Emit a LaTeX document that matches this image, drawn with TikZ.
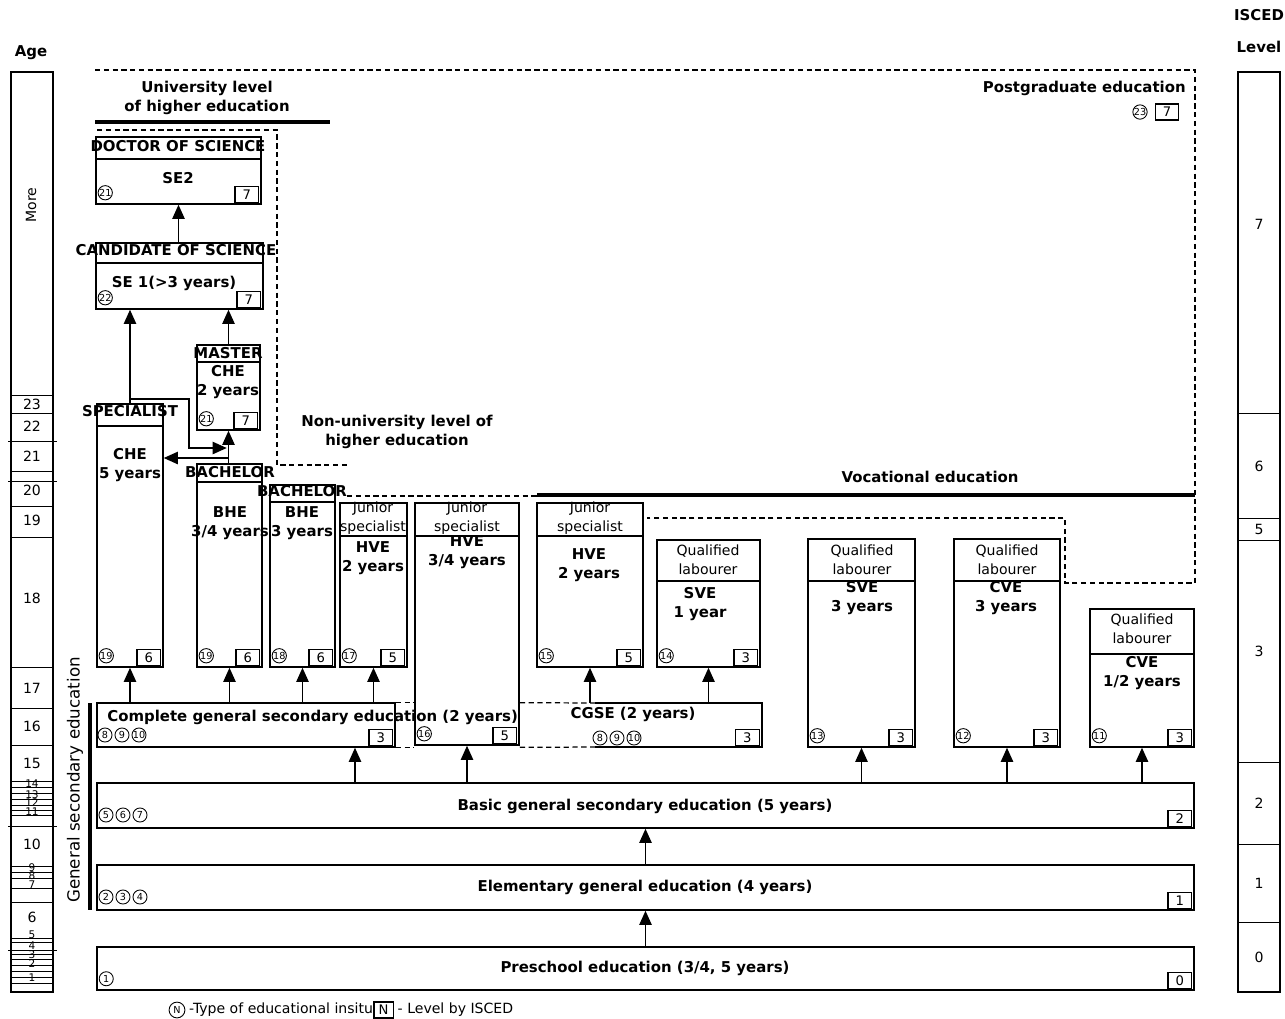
\documentclass[tikz,border=0pt]{standalone}
\usepackage{fontspec}
\setmainfont{DejaVu Sans}
\usetikzlibrary{arrows.meta,fit,positioning}

\begin{document}
\begin{tikzpicture}[x=0.02cm, y=-0.02cm, >={Triangle[width=7pt,length=8pt]},
  box/.style={draw, line width=0.85pt, inner sep=0pt},
  lbl/.style={font=\fontsize{8.5}{11}\selectfont\bfseries, align=center, inner sep=0pt},
  txt/.style={font=\fontsize{8}{11}\selectfont, align=center, inner sep=0pt},
  small/.style={font=\fontsize{6}{6}\selectfont, inner sep=0pt},
  inst/.style={circle, draw, line width=0.5pt, inner sep=0pt, minimum size=8pt, font=\fontsize{5.5}{5.5}\selectfont},
  lev/.style={draw, line width=0.7pt, inner sep=0pt, minimum width=13.5pt, minimum height=9pt, font=\fontsize{7.5}{8}\selectfont},
  link/.style={->, line width=0.8pt},
  bound/.style={line width=0.7pt, dash pattern=on 3pt off 2pt},
  rule/.style={line width=2.2pt}]

\useasboundingbox (0,0) rectangle (1285,1018);

\node[lbl] (age) at (31,53) {Age};
\node[box, fit={(11,72) (53,992)}] (agecol) {};
\node[txt, rotate=90] (more) at (31,205) {More};
\foreach \y in {395,413,471,506,537,667,708,745,781,787,793,799,805,810,815,866,872,878,888,902,938,942,954,959,965,971,977,983}
  \draw[line width=0.5pt] (11,\y) -- (53,\y);
\foreach \y in {441,481,826,950}
  \draw[line width=0.5pt] (8,\y) -- (57,\y);
\foreach \a/\y in {23/404,22/426,21/456,20/490,19/520,18/598,17/688,16/726,15/763,10/844,6/917}
  \node[txt] (age-\a) at (32,\y) {\a};
\foreach \a/\y in {14/784,13/795,12/803,11/812,9/868,8/876,7/885,5/935,4/946,3/955,2/964,1/978}
  \node[small] (age-\a) at (32,\y) {\a};

\node[lbl] (isced) at (1259,15) {ISCED};
\node[lbl] (level) at (1259,47) {Level};
\node[box, fit={(1238,72) (1280,992)}] (isccol) {};
\foreach \y in {413,518,540,762,844,922}
  \draw[line width=0.5pt] (1238,\y) -- (1280,\y);
\foreach \l/\y in {7/224,6/466,5/529,3/651,2/803,1/883,0/957}
  \node[txt] (isc-\l) at (1259,\y) {\l};

\draw[bound] (95,70) -- (1195,70) -- (1195,583) -- (1065,583) -- (1065,518) -- (647,518);
\draw[bound] (97,130) -- (277,130) -- (277,465) -- (348,465);
\draw[bound] (347,496) -- (537,496);
\draw[rule] (95,122) -- (330,122);
\draw[rule] (537,495) -- (1195,495);
\draw[rule] (90,703) -- (90,910);

\node[lbl] (univ) at (207,98) {University level\\of higher education};
\node[lbl] (nonuniv) at (397,432) {Non-university level of\\higher education};
\node[lbl] (voc) at (930,477) {Vocational education};
\node[lbl, anchor=east] (postgrad) at (1186,88) {Postgraduate education};
\node[inst] (pg-i) at (1140,112) {23};
\node[lev] (pg-l) at (1167,112) {7};
\node[txt, rotate=90, font=\fontsize{9.5}{11}\selectfont] (gse) at (75,780) {General secondary education};

\foreach \n/\xa/\ya/\xb/\yb/\yd in {doc/96/137/261/204/159, cand/96/243/263/309/263,
    mast/197/345/260/430/362, spec/97/404/163/667/426, bacha/197/464/262/667/482,
    bachb/270/485/335/667/502, jsa/340/503/407/667/536, jsb/415/503/519/745/536,
    jsc/537/503/643/667/536, qla/657/540/760/667/581, qlb/808/539/915/747/581,
    qlc/954/539/1060/747/581, qld/1090/609/1194/747/654}
{
  \node[box, fill=white, fit={(\xa,\ya) (\xb,\yb)}] (\n) {};
  \draw[box] (\xa,\yd) -- (\xb,\yd);
}

\foreach \n/\x/\y/\t in {doc-t/178/146/DOCTOR OF SCIENCE, doc-b/178/178/SE2,
    cand-t/176/250/CANDIDATE OF SCIENCE, cand-b/174/283/SE 1(>3 years),
    mast-t/228/353/MASTER, mast-b/228/382/CHE\\2 years,
    spec-t/130/411/SPECIALIST, spec-b/130/465/CHE\\5 years,
    bacha-t/230/472/BACHELOR, bacha-b/230/523/{BHE\\3/4 years},
    bachb-t/302/491/BACHELOR, bachb-b/302/523/BHE\\3 years,
    jsa-b/373/558/HVE\\2 years, jsb-b/467/552/{HVE\\3/4 years}, jsc-b/589/565/HVE\\2 years,
    qla-b/700/604/SVE\\1 year, qlb-b/862/598/SVE\\3 years,
    qlc-b/1006/598/CVE\\3 years, qld-b/1142/673/{CVE\\1/2 years}}
  \node[lbl] (\n) at (\x,\y) {\t};

\foreach \n/\x/\y/\t in {jsa-t/373/518/Junior\\specialist, jsb-t/467/518/Junior\\specialist,
    jsc-t/590/518/Junior\\specialist, qla-t/708/560/Qualified\\labourer,
    qlb-t/862/560/Qualified\\labourer, qlc-t/1007/560/Qualified\\labourer,
    qld-t/1142/629/Qualified\\labourer}
  \node[txt] (\n) at (\x,\y) {\t};

\node[box, fit={(97,703) (395,747)}] (cgs) {};
\node[inner sep=0pt, fit={(519,703) (762,747)}] (cgse) {};
\draw[box] (595,703) -- (762,703) -- (762,747) -- (595,747);
\draw[bound] (cgs.north east) -- (jsb.west |- cgs.north);
\draw[bound] (cgs.south east) -- (jsb.west |- cgs.south);
\draw[bound] (jsb.east |- cgse.north) -- (595,703);
\draw[bound] (jsb.east |- cgse.south) -- (595,747);
\node[box, fit={(97,783) (1194,828)}] (basic) {};
\node[box, fit={(97,865) (1194,910)}] (elem) {};
\node[box, fit={(97,947) (1194,990)}] (pre) {};

\node[lbl, anchor=west] (cgs-t) at (107,717) {Complete general secondary education (2 years)};
\node[lbl] (cgse-t) at (633,714) {CGSE (2 years)};
\node[lbl] (basic-t) at (645,806) {Basic general secondary education (5 years)};
\node[lbl] (elem-t) at (645,887) {Elementary general education (4 years)};
\node[lbl] (pre-t) at (645,968) {Preschool education (3/4, 5 years)};

\foreach \n/\i/\l in {doc/21/7, cand/22/7, mast/21/7, spec/19/6, bacha/19/6, bachb/18/6,
    jsa/17/5, jsb/16/5, jsc/15/5, qla/14/3, qlb/13/3, qlc/12/3, qld/11/3, cgs/8/3,
    cgse/8/3, basic/5/2, elem/2/1, pre/1/0}
{
  \node[lev] (\n-l) at ([shift={(-15,-10)}]\n.south east) {\l};
}
\foreach \n/\i in {doc/21, cand/22, mast/21, spec/19, bacha/19, bachb/18, jsa/17, jsb/16,
    jsc/15, qla/14, qlb/13, qlc/12, qld/11, pre/1}
  \node[inst] (\n-i) at ([shift={(10,-12)}]\n.south west) {\i};
\foreach \n/\x/\y in {cgs/105/735, cgse/600/738, basic/106/815, elem/106/897}
  \foreach \i [count=\k from 0] in {a,b,c}
    \node[inst] (\n-i\i) at (\x+\k*17,\y) {};
\foreach \n/\a/\b/\c in {cgs/8/9/10, cgse/8/9/10, basic/5/6/7, elem/2/3/4}
{
  \node[font=\fontsize{5.5}{5.5}\selectfont] at (\n-ia) {\a};
  \node[font=\fontsize{5.5}{5.5}\selectfont] at (\n-ib) {\b};
  \node[font=\fontsize{5.5}{5.5}\selectfont] at (\n-ic) {\c};
}

\foreach \a/\b in {pre/elem, elem/basic}
  \draw[link] (\a.north) -- (\b.south);
\foreach \b in {jsb, qlb, qlc, qld}
  \draw[link] (basic.north -| \b.south) -- (\b.south);
\draw[link] (basic.north -| 355,0) -- (cgs.south -| 355,0);
\foreach \b in {spec, bacha, bachb, jsa}
  \draw[link] (cgs.north -| \b.south) -- (\b.south);
\foreach \b in {jsc, qla}
  \draw[link] (cgse.north -| \b.south) -- (\b.south);
\draw[link] (spec.north) -- (spec.north |- cand.south);
\draw[link] (mast.north) -- (mast.north |- cand.south);
\draw[link] (cand.north -| doc.south) -- (doc.south);
\draw[link] (bacha.north -| mast.south) -- (mast.south);
\coordinate (fork) at (mast.south |- 0,458);
\coordinate (forkb) at (mast.south |- 0,448);
\draw[link] (fork) -- (fork -| spec.east);
\draw[link, shorten >=1pt] (spec.north |- 0,399) -| (189,448) -- (forkb);

\node[inst, minimum size=9pt] (key-i) at (177,1010) {N};
\node[txt, right=2pt of key-i] (key-t) {-Type of educational insitu};
\node[lev, right=0pt of key-t, minimum width=11pt] (key-l) {N};
\node[txt, right=2pt of key-l] (key-s) {- Level by ISCED};
\end{tikzpicture}
\end{document}
